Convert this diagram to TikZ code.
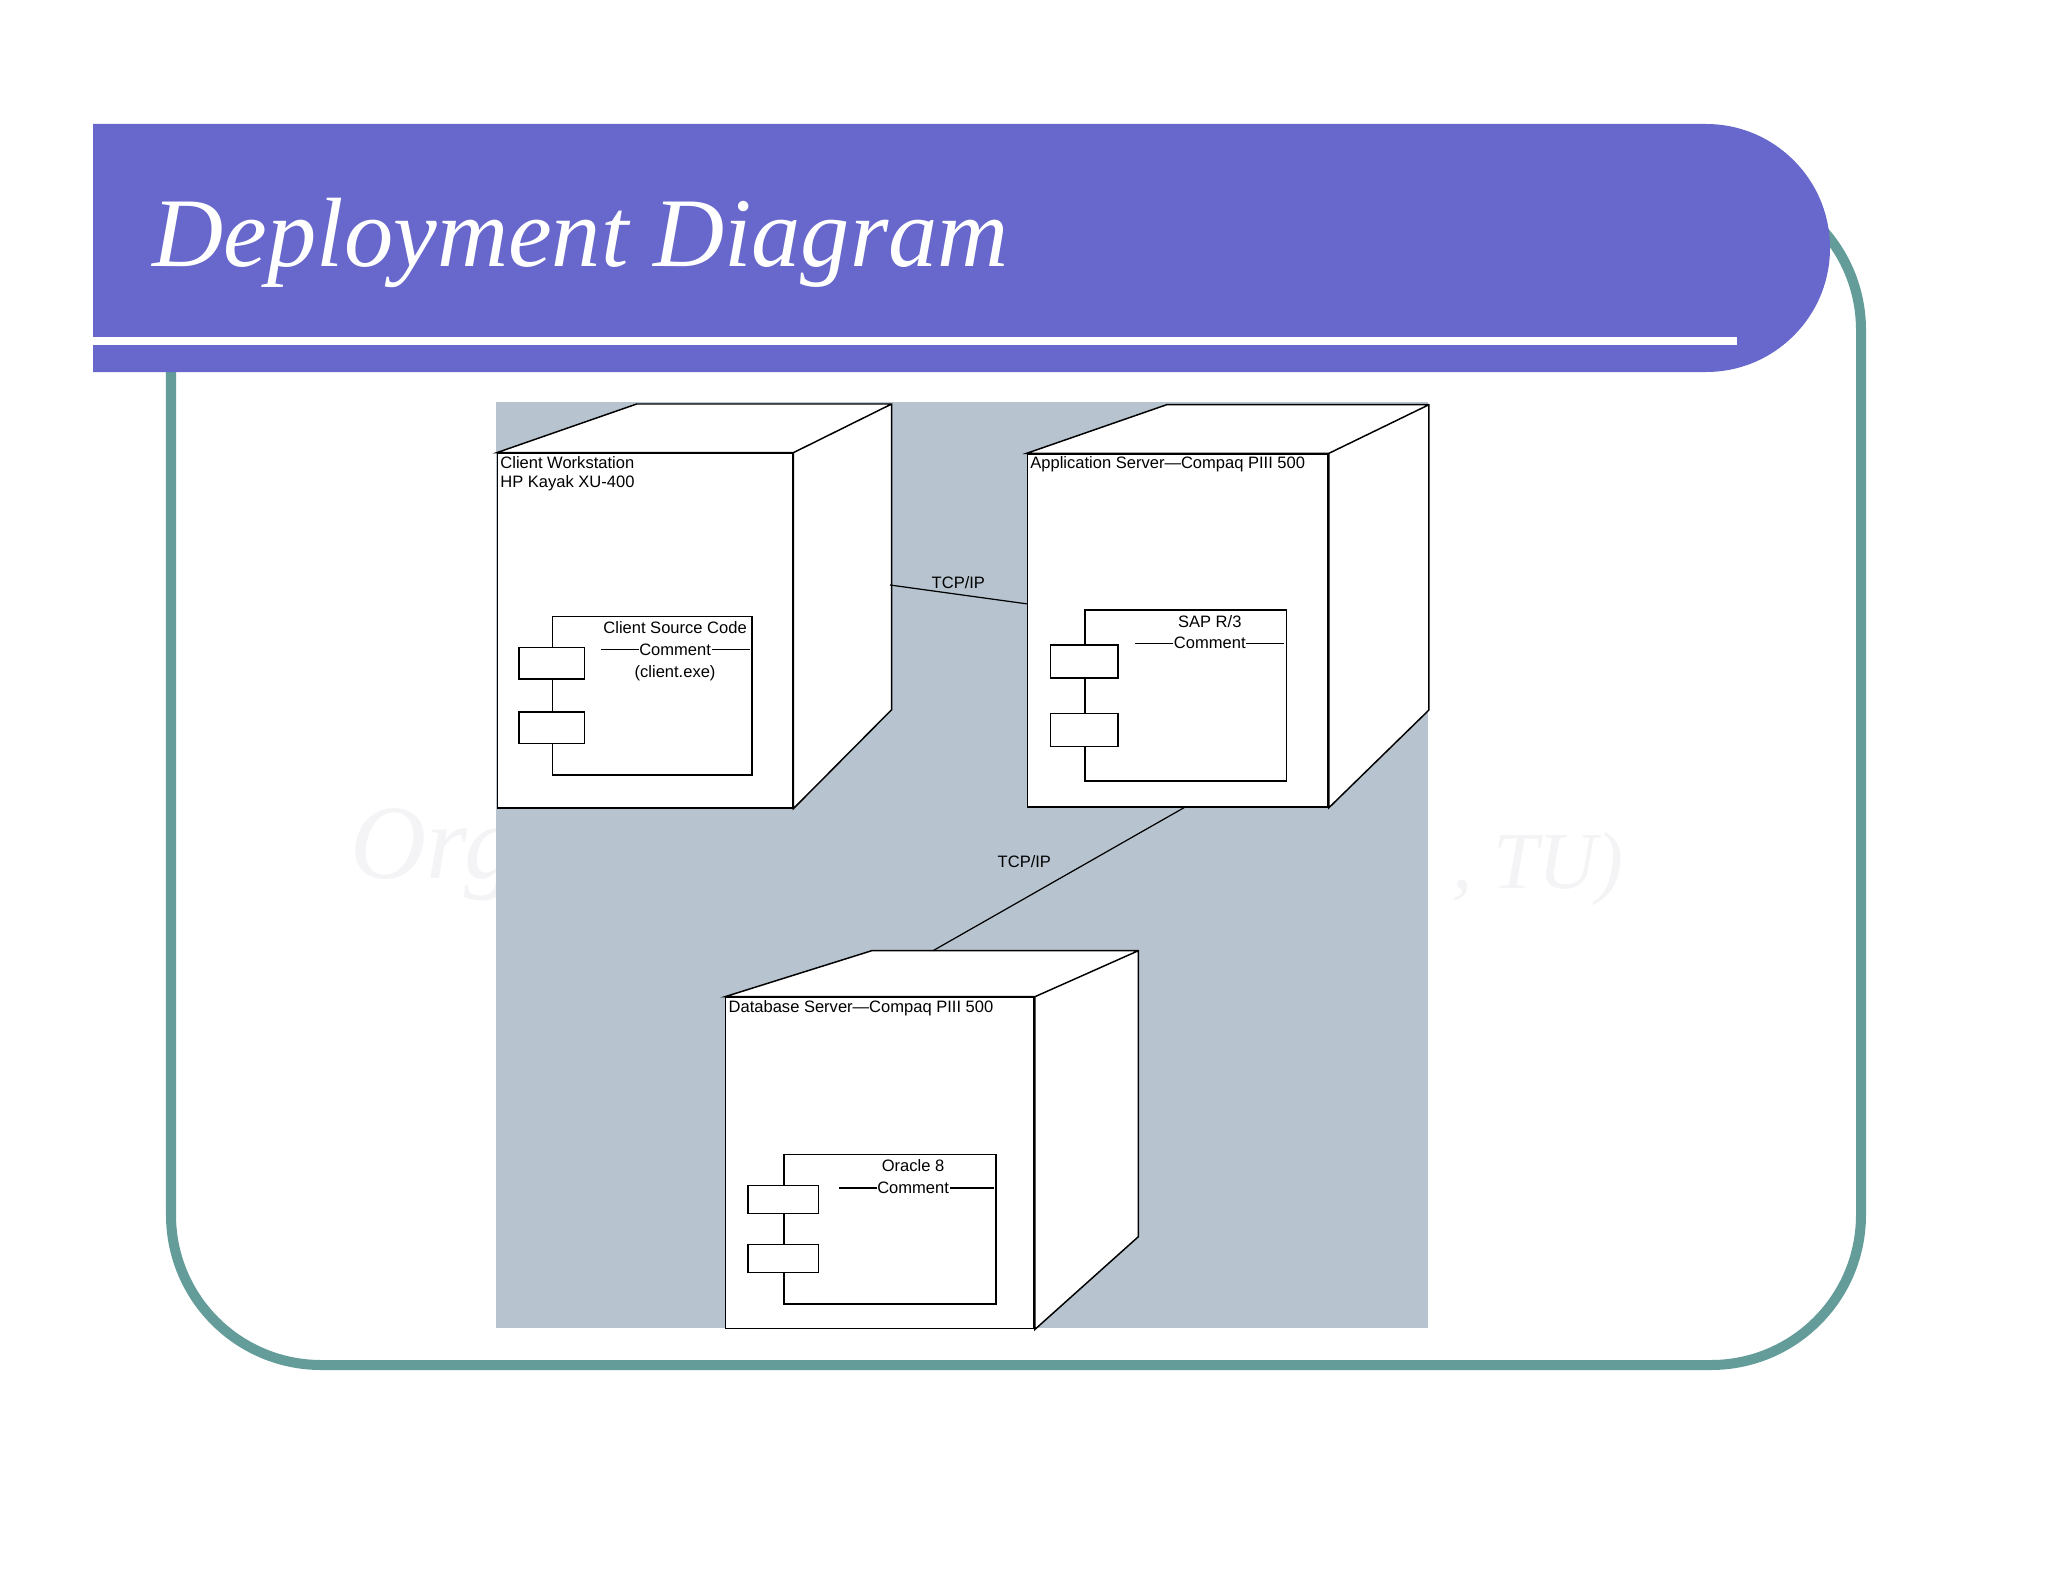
\documentclass[tikz,border=0pt]{standalone}
\usepackage{fontspec}
\setmainfont{Liberation Sans}
\newfontfamily\serifit{Liberation Serif}

\definecolor{barblue}{RGB}{103,103,204}
\definecolor{frameteal}{RGB}{99,156,152}
\definecolor{panelgray}{RGB}{183,196,207}
\definecolor{markgray}{RGB}{244,244,246}

\tikzset{
	every cube/.style={draw, fill=white, line width=0.42pt, inner sep=0pt, anchor=north west},
	every side/.style={draw, fill=white, line width=0.42pt, line join=miter},
	every comp/.style={draw, fill=white, line width=0.42pt, inner sep=0pt, anchor=north west},
	every port/.style={draw, fill=white, line width=0.42pt, inner sep=0pt, anchor=center},
	tiny text/.style={inner sep=0pt, font=\fontsize{4.7}{5.4}\selectfont},
	tcp link/.style={line width=0.35pt},
}

\begin{document}
\begin{tikzpicture}[x=0.01cm, y=-0.01cm]

		\useasboundingbox (0,0) rectangle (2048,1582);
		\fill[white] (0,0) rectangle (2048,1582);

		% watermark
		\node [markgray, inner sep=0pt, anchor=base west, font=\serifit\itshape\fontsize{30}{30}\selectfont] (mark-left) at (350,878) {Org};
		\node [markgray, inner sep=0pt, anchor=base west, font=\serifit\itshape\fontsize{23}{23}\selectfont] (mark-right) at (1452,888) {, TU)};

		% frame
		\draw [frameteal, line width=0.1cm, rounded corners=1.5cm] (171,180) rectangle (1861,1365);

		% title bar
		\fill [barblue] (93,124) -- (1706,124) arc [start angle=-90, end angle=90, radius=124] -- (93,372) -- cycle;
		\fill [white] (93,337) rectangle (1737,345);
		\node [anchor=base west, inner sep=0pt, text=white, font=\serifit\itshape\fontsize{28}{30}\selectfont] (title) at (152,267) {Deployment Diagram};

		% panel
		\fill [panelgray] (496,402) rectangle (1428,1328);

		% front faces
		\foreach \n/\x/\y/\w/\h in {client/496.7/452.7/2.95/3.543, app/1026.7/453.3/3.006/3.527, db/725/996.7/3.083/3.31}
			\node [every cube, minimum width=\w cm, minimum height=\h cm] (\n) at (\x,\y) {};

		% top and side faces
		\foreach \n/\a/\b/\c/\d in {client/140/98.3/48.7/99, app/140/100/48.6/97.7, db/146.7/103.4/46/92.7}
			\draw [every side] (\n.north west) -- ++(\a,-\c) -- ([shift={(\b,-\c)}]\n.north east)
				-- ([shift={(\b,-\d)}]\n.south east) -- (\n.south east) -- (\n.north east) -- cycle
				(\n.north east) -- ++(\b,-\c);

		% node names
		\node [tiny text, anchor=north west, align=left] (client-name) at ([shift={(3,3)}]client.north west) {Client Workstation\\HP Kayak XU-400};
		\node [tiny text, anchor=north west] (app-name) at ([shift={(3,3)}]app.north west) {Application Server—Compaq PIII 500};
		\node [tiny text, anchor=north west] (db-name) at ([shift={(3,3)}]db.north west) {Database Server—Compaq PIII 500};

		% components
		\foreach \n/\x/\y/\w/\h in {client/551.7/615.7/1.993/1.586, app/1084.3/609.3/2.014/1.707, db/783.3/1154/2.117/1.493}
			\node [every comp, minimum width=\w cm, minimum height=\h cm] (\n-comp) at (\x,\y) {};

		% component ports
		\foreach \n/\w/\h/\p/\q in {client/0.657/0.313/47.6/112.1, app/0.677/0.33/52/120.7, db/0.706/0.28/45.5/104.5}
		{
			\node [every port, minimum width=\w cm, minimum height=\h cm] (\n-comp-1) at ([shift={(0,\p)}]\n-comp.north west) {};
			\node [every port, minimum width=\w cm, minimum height=\h cm] (\n-comp-2) at ([shift={(0,\q)}]\n-comp.north west) {};
		}

		% component texts
		\foreach \n/\l/\g in {client/{Client Source Code}/41, app/{SAP R/3}/41, db/{Oracle 8}/47}
		{
			\node [tiny text, anchor=east] (\n-cmt) at ([shift={(-\g,34)}]\n-comp.north east) {Comment};
			\draw [line width=0.35pt] (\n-cmt.west) -- ++(-38,0) (\n-cmt.east) -- ++(\g-3,0);
			\node [tiny text] (\n-comp-name) at ([shift={(0,-22)}]\n-cmt.center) {\l};
		}
		\node [tiny text] (client-comp-file) at ([shift={(0,23.4)}]client-cmt.center) {(client.exe)};

		% links
		\coordinate (client-link) at (890,585);
		\coordinate (db-link) at ([shift={(208,-46)}]db.north west);

		\draw [tcp link] (client-link) -- (app.170)
			node [tiny text, midway, above, inner sep=1.5pt] (tcp-1) {TCP/IP};
		\draw [tcp link] (app.-88.6) -- (db-link)
			node [tiny text, pos=0.38, left=0.37cm] (tcp-2) {TCP/IP};

\end{tikzpicture}
\end{document}
